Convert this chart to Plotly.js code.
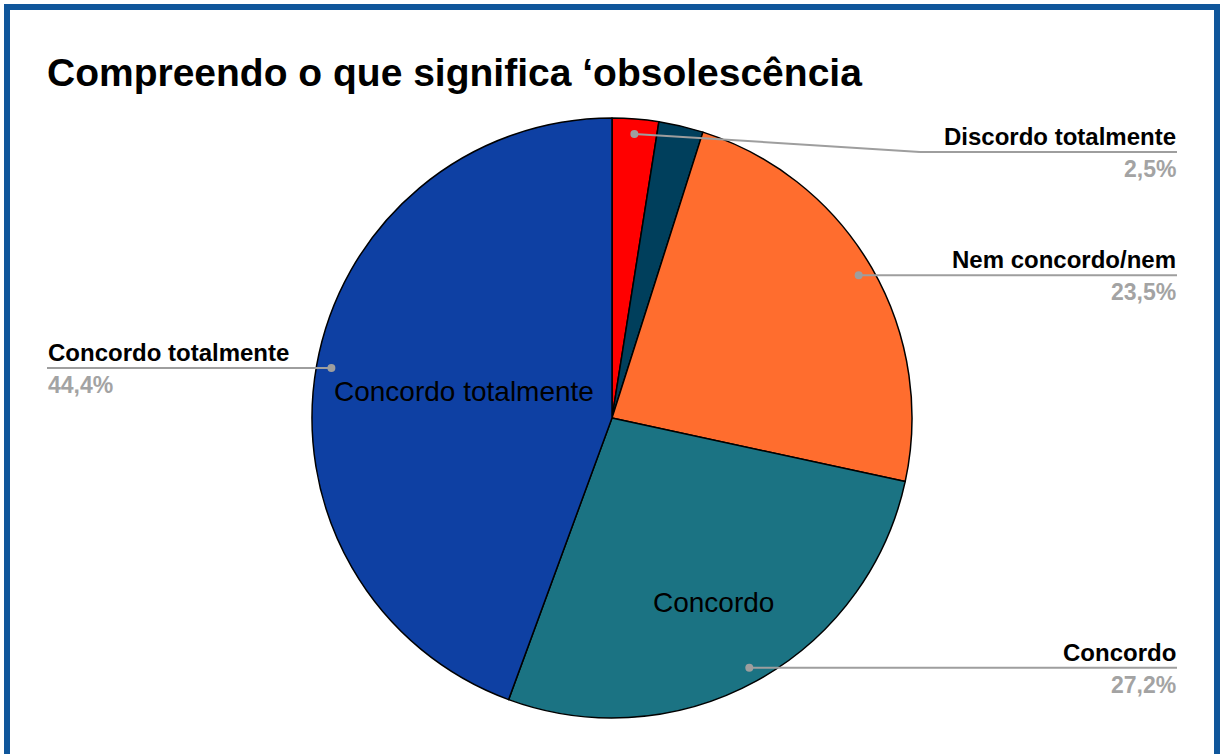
<!DOCTYPE html>
<html>
<head>
<meta charset="utf-8">
<script src="https://cdn.plot.ly/plotly-3.0.1.min.js"></script>
<style>
  html, body { margin: 0; padding: 0; background: #ffffff; overflow: hidden; }
  #wrap { position: relative; width: 1221px; height: 754px; }
  #chart { position: absolute; left: 0; top: 0; width: 1221px; height: 754px; }
  #frame { position: absolute; left: 4px; top: 4px; width: 1204px; height: 760px;
           border-left: 6px solid #0f569b; border-top: 6px solid #0f569b; border-right: 6px solid #0f569b;
           pointer-events: none; }
</style>
</head>
<body>
<div id="wrap">
  <div id="chart"></div>
  <div id="frame"></div>
</div>
<script>
// ---- data ----
const titleText = 'Compreendo o que significa ‘obsolescência';
const labels = ['Discordo totalmente', 'Discordo', 'Nem concordo/nem', 'Concordo', 'Concordo totalmente'];
const values = [2.5, 2.4, 23.5, 27.2, 44.4];
const insideLabels = ['', '', '', 'Concordo', 'Concordo totalmente'];
const calloutShown = [true, false, true, true, true];
const calloutSide = ['right', 'right', 'right', 'right', 'left'];

// ---- styles / layout ----
const colors = ['#ff0000', '#003f5c', '#ff6d2e', '#1b7383', '#0e40a3'];
const insideRadius = [0, 0, 0, 0.7, 0.5];
const W = 1221, H = 754;
const cx = 612, cy = 418, R = 300;
const FONT = 'Liberation Sans, Arial, sans-serif';
const rightX = 1177, leftX = 47, minLineY = 152, elbowRightX = 920;
const gray = '#9e9e9e';

const px = x => x / W;
const py = y => 1 - y / H;

const total = values.reduce((a, b) => a + b, 0);
const shapes = [];
const annotations = [];
let cum = 0;
values.forEach((v, i) => {
  const mid = 2 * Math.PI * (cum + v / 2) / total;
  cum += v;
  if (insideLabels[i]) {
    const tx = cx + insideRadius[i] * R * Math.sin(mid);
    const ty = cy - insideRadius[i] * R * Math.cos(mid);
    annotations.push({xref: 'paper', yref: 'paper', x: px(tx), y: py(ty), xanchor: 'center', yanchor: 'middle',
                      showarrow: false, text: insideLabels[i], borderpad: 0,
                      font: {family: FONT, size: 28, color: '#000000'}});
  }
  if (!calloutShown[i]) return;
  const dx = cx + 0.95 * R * Math.sin(mid);
  const dy = cy - 0.95 * R * Math.cos(mid);
  const lineY = Math.max(dy, minLineY);
  const endX = calloutSide[i] === 'right' ? rightX : leftX;
  let elbowX = dx;
  if (lineY !== dy) elbowX = elbowRightX;
  if (elbowX !== dx) {
    shapes.push({type: 'line', xref: 'paper', yref: 'paper', x0: px(dx), y0: py(dy), x1: px(elbowX), y1: py(lineY),
                 line: {color: gray, width: 2}});
  }
  shapes.push({type: 'line', xref: 'paper', yref: 'paper', x0: px(elbowX), y0: py(lineY), x1: px(endX), y1: py(lineY),
               line: {color: gray, width: 2}});
  shapes.push({type: 'circle', xref: 'paper', yref: 'paper', x0: px(dx - 4), x1: px(dx + 4), y0: py(dy - 4), y1: py(dy + 4),
               fillcolor: gray, line: {width: 0}});
  const anchor = calloutSide[i] === 'right' ? 'right' : 'left';
  annotations.push({xref: 'paper', yref: 'paper', x: px(endX), y: py(lineY - 1), xanchor: anchor, yanchor: 'bottom',
                    showarrow: false, text: labels[i], borderpad: 0,
                    font: {family: FONT, size: 24, color: '#000000', weight: 'bold'}});
  annotations.push({xref: 'paper', yref: 'paper', x: px(endX), y: py(lineY + 3), xanchor: anchor, yanchor: 'top',
                    showarrow: false, text: v.toFixed(1).replace('.', ',') + '%', borderpad: 0,
                    font: {family: FONT, size: 23, color: '#a3a3a3', weight: 'bold'}});
});

const trace = {
  type: 'pie',
  labels: labels,
  values: values,
  textinfo: 'none',
  sort: false,
  direction: 'clockwise',
  rotation: 0,
  marker: {colors: colors, line: {color: '#000000', width: 1.5}},
  domain: {x: [px(cx - R), px(cx + R)], y: [py(cy + R), py(cy - R)]},
  hoverinfo: 'label+percent',
  showlegend: false
};

const layout = {
  width: W, height: H,
  margin: {l: 0, r: 0, t: 0, b: 0},
  paper_bgcolor: '#ffffff',
  showlegend: false,
  title: {text: titleText, x: px(47), xanchor: 'left', xref: 'paper', y: py(72), yanchor: 'middle', yref: 'paper',
          font: {family: FONT, size: 39, color: '#000000', weight: 'bold'}},
  shapes: shapes,
  annotations: annotations
};

Plotly.newPlot('chart', [trace], layout, {displayModeBar: false, staticPlot: true});
</script>
</body>
</html>
